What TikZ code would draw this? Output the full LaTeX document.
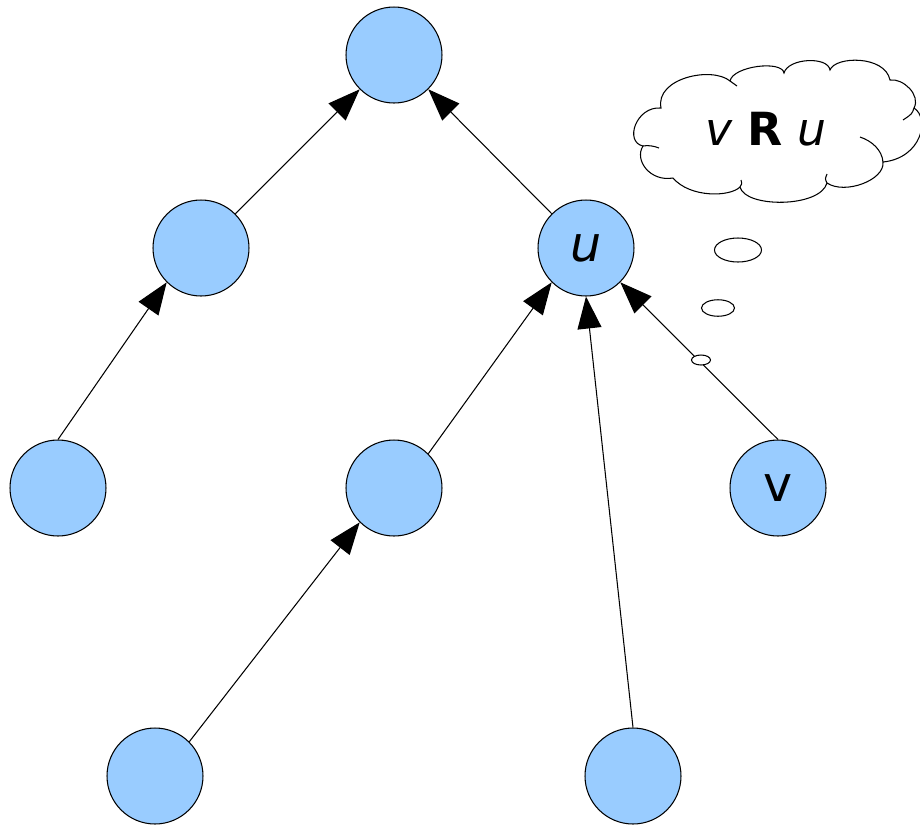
\documentclass[tikz,border=0pt]{standalone}
\usepackage{fontspec}
\setmainfont{DejaVu Sans}
\usetikzlibrary{arrows.meta}
\definecolor{nodeblue}{HTML}{99CCFF}
\begin{document}
\begin{tikzpicture}[x=0.02cm,y=-0.02cm,
  vertex/.style={circle,draw=black,line width=0.6pt,fill=nodeblue,minimum size=1.92cm,inner sep=0pt,font=\fontsize{28}{30}\selectfont},
  arr/.style={line width=0.6pt,-{Triangle[length=0.64cm,width=0.48cm]}},
  thin line/.style={line width=0.6pt},
  bubble/.style={line width=0.6pt,draw=black,fill=white}]
\useasboundingbox (0,0) rectangle (920,826);
% nodes
\node[vertex] (r)  at (394,55)  {};
\node[vertex] (lm) at (201,248) {};
\node[vertex] (u)  at (586,248) {\itshape u};
\node[vertex] (ll) at (58,488)  {};
\node[vertex] (m)  at (394,488) {};
\node[vertex] (v)  at (778,488) {v};
\node[vertex] (bl) at (155,776) {};
\node[vertex] (br) at (633,776) {};
% edges
\draw[arr] (lm.45) -- (r.225);
\draw[arr] (u.135) -- (r.315);
\draw[arr] (ll.90) -- (lm.225);
\draw[arr] (m.45) -- (u.225);
\draw[arr] (br.90) -- (u.270);
\draw[arr] (v.90) -- (u.315);
\draw[arr] (bl.45) -- (m.225);
% thought bubbles
\draw[bubble] (738,250) ellipse [x radius=0.47cm, y radius=0.24cm];
\draw[bubble] (718,308) ellipse [x radius=0.33cm, y radius=0.165cm];
\draw[bubble] (701,360) ellipse [x radius=0.19cm, y radius=0.10cm];
% cloud
\draw[bubble]
  (661,108) .. controls (655,78) and (712,66) .. (730,81)
  .. controls (733,66) and (782,60) .. (784,73)
  .. controls (788,58) and (828,56) .. (830,70)
  .. controls (835,56) and (885,55) .. (890,80)
  .. controls (903,78) and (921,95) .. (914,108)
  .. controls (930,118) and (922,158) .. (883,162)
  .. controls (885,180) and (845,195) .. (827,183)
  .. controls (820,208) and (745,208) .. (740,187)
  .. controls (730,197) and (690,198) .. (673,178)
  .. controls (650,182) and (634,160) .. (643,146)
  .. controls (624,142) and (636,106) .. (661,108) -- cycle;
% inner curls of the cloud
\draw[thin line] (860,137) .. controls (872,141) and (882,150) .. (883,162);
\draw[thin line] (914,108) .. controls (912,114) .. (903,120);
\draw[thin line] (827,183) .. controls (825,179) .. (827,174);
\draw[thin line] (643,146) .. controls (648,145) and (654,146) .. (659,148);
\draw[thin line] (730,81) .. controls (733,84) .. (737,86);
\draw[thin line] (740,187) .. controls (742,184) .. (741,180);
\node[font=\fontsize{26}{30}\selectfont, anchor=base, inner sep=0pt] (rel) at (766,145) {\textit{v} \textbf{R} \textit{u}};
\end{tikzpicture}
\end{document}
